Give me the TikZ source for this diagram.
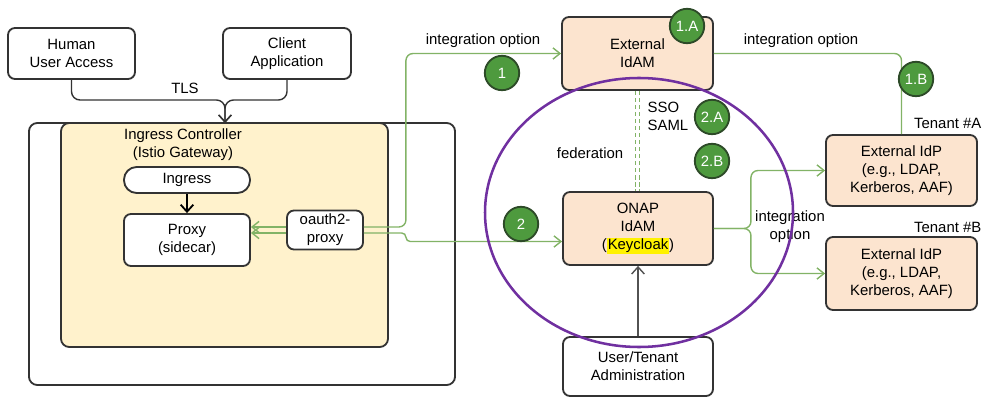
\documentclass[tikz,border=0pt]{standalone}
\usepackage{fontspec}
\setmainfont{Liberation Sans}
\usetikzlibrary{arrows.meta,calc}

\definecolor{boxline}{HTML}{333333}
\definecolor{ctrlfill}{HTML}{FFF2CC}
\definecolor{idamfill}{HTML}{FCE4CF}
\definecolor{linkgreen}{HTML}{82B366}
\definecolor{badgefill}{HTML}{4E9A3E}
\definecolor{badgeline}{HTML}{2D4A28}
\definecolor{ringpurple}{HTML}{7030A0}

\tikzset{
  box/.style={draw=boxline, line width=1.3pt, rounded corners=5pt, fill=white, align=center, inner sep=2pt},
  badge/.style={circle, draw=badgeline, line width=1.3pt, fill=badgefill, text=white, minimum size=0.86cm, inner sep=0pt},
  link/.style={draw=linkgreen, line width=1pt, rounded corners=5pt, -{Straight Barb[length=5pt,width=8pt]}},
  darklink/.style={draw=boxline, line width=1pt, rounded corners=6pt, -{Straight Barb[length=5pt,width=9pt]}},
  fedline/.style={draw=linkgreen, line width=1pt, dash pattern=on 3pt off 2pt},
}

\begin{document}
\begin{tikzpicture}[x=0.025cm, y=-0.025cm, font=\fontsize{10.6}{12.8}\selectfont]
  \useasboundingbox (0,0) rectangle (984,399);

  \node (cluster) at (242,254) [draw=boxline, line width=1.3pt, rounded corners=6pt, minimum width=10.65cm, minimum height=6.55cm] {};
  \node (ctrl) at (224.5,235) [draw=boxline, line width=1.3pt, rounded corners=6pt, fill=ctrlfill, minimum width=8.175cm, minimum height=5.6cm] {};

  \begin{scope}[every node/.style={box}]
    \node (hua) at (71.5,53.5) [minimum width=3.175cm, minimum height=1.275cm] {Human\\User Access};
    \node (cla) at (287,53.5)  [minimum width=3.2cm, minimum height=1.275cm] {Client\\Application};
    \node (ing) at (187,180)   [minimum width=3.15cm, minimum height=0.65cm, rounded corners=9pt] {Ingress};
    \node (prx) at (187,240)   [minimum width=3.15cm, minimum height=1.3cm] {Proxy\\(sidecar)};
    \node (oau) at (325,230)   [minimum width=1.9cm, minimum height=0.975cm] {oauth2-\\proxy};
    \node (usr) at (638,366.5) [minimum width=3.75cm, minimum height=1.475cm] {User/Tenant\\Administration};
  \end{scope}

  \begin{scope}[every node/.style={box, fill=idamfill}]
    \node (ext)  at (637.5,53.5)  [minimum width=3.775cm, minimum height=1.825cm] {External\\IdAM};
    \node (onp)  at (638,228.5)   [minimum width=3.75cm, minimum height=1.825cm] {ONAP\\IdAM\\({\setlength{\fboxsep}{0.6pt}\colorbox{yellow}{Keycloak}})};
    \node (idpa) at (901.5,170.5) [minimum width=3.775cm, minimum height=1.775cm] {External IdP\\(e.g., LDAP,\\Kerberos, AAF)};
    \node (idpb) at (901.5,273.5) [minimum width=3.775cm, minimum height=1.825cm] {External IdP\\(e.g., LDAP,\\Kerberos, AAF)};
  \end{scope}

  \begin{scope}[every node/.style={align=center, inner sep=1pt}]
    \node (tls)      at (185,88)  {TLS};
    \node (ctrlname) at (183,145) {Ingress Controller\\(Istio Gateway)};
    \node (optext)   at (483,41)  {integration option};
    \node (opttenant) at (801,41) {integration option};
    \node (optidp)   at (790,227) {integration\\option};
    \node (sso)      at (646,116) [anchor=west, align=left] {SSO\\SAML};
    \node (fed)      at (590,153) {federation};
    \node (tena)     at (983,123) [anchor=east] {Tenant \#A};
    \node (tenb)     at (983,227) [anchor=east] {Tenant \#B};
  \end{scope}

  \coordinate (tlsmid) at (225,100);
  \coordinate (tlsin)  at (225,123);
  \draw[darklink] (hua.south) |- (tlsmid) -- (tlsin);
  \draw[darklink] (cla.south) |- (tlsmid) -- (tlsin);
  \draw[darklink, line width=1.3pt, draw=black] (ing) -- (prx);

  \draw[link] ($(oau.west)+(0,-3)$) -- ($(oau.west -| prx.east)+(0,-3)$);
  \draw[link] ($(oau.west)+(0,3)$) -- ($(oau.west -| prx.east)+(0,3)$);
  \draw[link] ($(oau.east)+(0,-3)$) -- ++(42,0) |- (ext.west);
  \draw[link, rounded corners=3pt] ($(oau.east)+(0,3)$) -- ++(42,0) |- ($(onp.west)+(0,13)$);
  \draw[link, -] (ext.east) -| (idpa.north);
  \draw[link] (onp.east) -- ++(37,0) |- (idpa.west);
  \draw[link] (onp.east) -- ++(37,0) |- (idpb.west);
  \draw[fedline] ($(ext.south)+(-2,0)$) -- ($(ext.south |- onp.north)+(-2,0)$);
  \draw[fedline] ($(ext.south)+(2,0)$) -- ($(ext.south |- onp.north)+(2,0)$);
  \draw[darklink, draw=boxline!85] (usr) -- (onp);

  \draw[ringpurple, line width=1.8pt] (639,212.5) ellipse [x radius=154, y radius=134.5];

  \begin{scope}[every node/.style={badge}]
    \node (b1)  at (502,73)  {1};
    \node (b1a) at (687,26)  {1.A};
    \node (b1b) at (916,79)  {1.B};
    \node (b2)  at (521,224) {2};
    \node (b2a) at (712,117) {2.A};
    \node (b2b) at (712,161) {2.B};
  \end{scope}

\end{tikzpicture}
\end{document}
